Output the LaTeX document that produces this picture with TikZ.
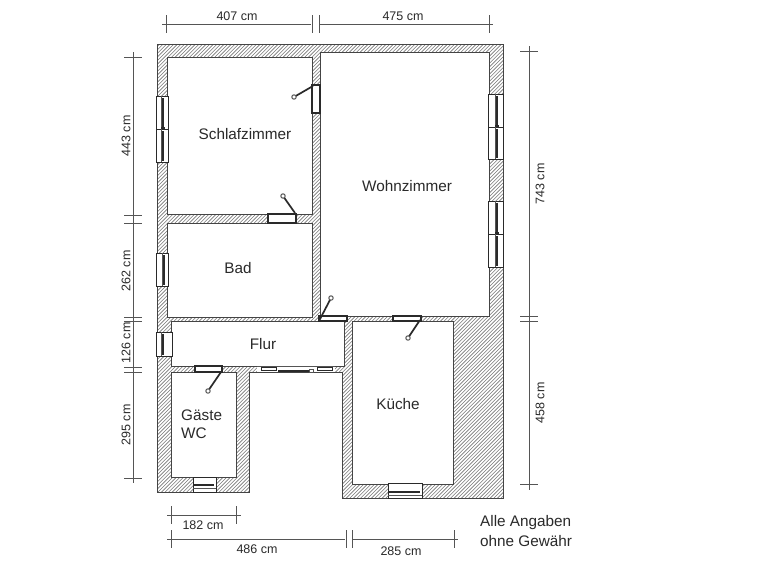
\documentclass[tikz,border=0pt]{standalone}
\usepackage{fontspec}
\setmainfont{Liberation Sans}
\definecolor{ink}{HTML}{2A2A2A}
\definecolor{dimc}{HTML}{555555}
\definecolor{hatchc}{HTML}{777777}
\tikzset{
  wallline/.style={draw=dimc!80!black,line width=0.6pt},
  room/.style={fill=white,draw=dimc!80!black,line width=0.6pt},
  hatchline/.style={draw=hatchc,line width=0.6pt},
  dimline/.style={draw=dimc,line width=0.6pt},
  dimtext/.style={text=ink,font=\fontsize{12.5}{14}\selectfont,inner sep=0pt},
  roomtext/.style={text=ink,font=\fontsize{15.3}{17}\selectfont,inner sep=0pt},
  opening/.style={fill=white,draw=ink,line width=1.1pt},
  leaf/.style={draw=ink,line width=1.7pt},
  bar/.style={draw=ink,line width=1.5pt},
  thin/.style={draw=dimc,line width=0.6pt},
  handle/.style={draw=dimc,line width=1pt,fill=white}
}
\newcommand{\dimH}[3]{\draw[dimline] (#2,#1) -- (#3,#1);}
\newcommand{\tickV}[2]{\draw[dimline] (#1,#2-9) -- (#1,#2+9);}
\newcommand{\dimV}[3]{\draw[dimline] (#1,#2) -- (#1,#3);}
\newcommand{\tickH}[2]{\draw[dimline] (#1-9,#2) -- (#1+9,#2);}
\newcommand{\winV}[5]{%
  \draw[opening,line width=0.7pt] (#1,#3) rectangle (#2,#4);
  \draw[thin] (#5-2,#3) -- (#5-2,#4);
  \draw[bar] (#5,#3+2) -- (#5,#4-1);
}
\newcommand{\winVV}[6]{%
  \winV{#1}{#2}{#3}{#4}{#6}
  \winV{#1}{#2}{#4}{#5}{#6}
  \draw[bar] (#6-2,#4-1) -- (#6+2,#4-1);
}
\newcommand{\winH}[5]{%
  \draw[opening,line width=0.7pt] (#1,#3) rectangle (#2,#4);
  \draw[thin] (#1,#5+3) -- (#2,#5+3);
  \draw[bar] (#1+1,#5) -- (#2-2,#5);
}
\newcommand{\door}[8]{%
  \draw[opening] (#1,#2) rectangle (#3,#4);
  \draw[leaf] (#5,#6) -- (#7,#8);
  \draw[handle] (#7,#8) circle (2.2);
}
\begin{document}
\begin{tikzpicture}[x=1pt,y=-1pt]
\useasboundingbox (0,0) rectangle (768,560);
\fill[white] (0,0) rectangle (768,560);
\begin{scope}
  \clip (157,44) -- (503,44) -- (503,498) -- (342,498) -- (342,372) -- (249,372) -- (249,492) -- (157,492) -- cycle;
  \foreach \c in {160,163.6,...,1010} { \draw[hatchline] (\c,40) -- (\c-470,510); }
\end{scope}
\draw[wallline] (157,44) -- (503,44) -- (503,498) -- (342,498) -- (342,372) -- (249,372) -- (249,492) -- (157,492) -- cycle;
\draw[room] (167,57) rectangle (312,214);
\draw[room] (320,52) rectangle (489,316);
\draw[room] (167,223) rectangle (312,317);
\draw[room] (171,321) rectangle (344,366);
\draw[room] (171,372) rectangle (236,477);
\draw[room] (352,321) rectangle (453,484);
\winVV{156}{168}{96}{129}{162}{163}
\winVV{488}{503}{94}{127}{159}{497}
\winVV{488}{503}{201}{234}{267}{497}
\winV{156}{168}{253}{286}{164}
\winV{156}{172}{332}{356}{163}
\winH{193}{216}{477}{492}{485}
\winH{388}{422}{483}{498}{492}
\door{312}{85}{320}{113}{313}{86}{294}{97}
\door{268}{214}{296}{223}{295}{213}{283}{196}
\door{319}{316}{347}{321}{319}{321}{331}{298}
\door{393}{316}{421}{321}{420}{320}{408}{338}
\door{195}{366}{222}{372}{221}{372}{208}{391}
\fill[white] (257,366.5) rectangle (335,371.5);
\draw[thin] (257,366.5) -- (335,366.5);
\draw[opening,line width=0.7pt] (261,367.5) rectangle (276,370.5);
\draw[opening,line width=0.7pt] (317,367.5) rectangle (332,370.5);
\draw[bar] (278,371) -- (312,371);
\draw[handle] (309,369) rectangle (313,372);
\dimH{24}{162}{311}\dimH{24}{319}{493}
\tickV{166}{24}\tickV{312}{24}\tickV{319}{24}\tickV{489}{24}
\dimV{133}{52}{483}
\tickH{133}{57}\tickH{133}{215}\tickH{133}{223}\tickH{133}{317}\tickH{133}{321}\tickH{133}{367}\tickH{133}{372}\tickH{133}{478}
\dimV{529}{46}{490}
\tickH{529}{51}\tickH{529}{316}\tickH{529}{321}\tickH{529}{484}
\dimH{515}{167}{241}\tickV{171}{515}\tickV{236}{515}
\dimH{539}{167}{345}\dimH{539}{352}{458}
\tickV{171}{539}\tickV{346}{539}\tickV{352}{539}\tickV{454}{539}
\node[dimtext] (d407) at (237,16.5) {407 cm};
\node[dimtext] (d475) at (403,16.5) {475 cm};
\node[dimtext,rotate=90] (d443) at (126,136) {443 cm};
\node[dimtext,rotate=90] (d262) at (126,271) {262 cm};
\node[dimtext,rotate=90] (d126) at (126,343) {126 cm};
\node[dimtext,rotate=90] (d295) at (126,425) {295 cm};
\node[dimtext,rotate=90] (d743) at (540,184) {743 cm};
\node[dimtext,rotate=90] (d458) at (540,403) {458 cm};
\node[dimtext] (d182) at (203,525) {182 cm};
\node[dimtext] (d486) at (257,549) {486 cm};
\node[dimtext] (d285) at (401,551) {285 cm};
\node[roomtext] (schlaf) at (245,134) {Schlafzimmer};
\node[roomtext] (wohn) at (407,186) {Wohnzimmer};
\node[roomtext] (bad) at (238,268) {Bad};
\node[roomtext] (flur) at (263,344) {Flur};
\node[roomtext,anchor=west] (gaeste) at (181,415) {Gäste};
\node[roomtext,anchor=west] (wc) at (181,433) {WC};
\node[roomtext] (kueche) at (398,404) {Küche};
\node[roomtext,anchor=west] (alle) at (480,523) {Alle Angaben};
\node[roomtext,anchor=west] (ohne) at (480,541) {ohne Gewähr};
\end{tikzpicture}
\end{document}
